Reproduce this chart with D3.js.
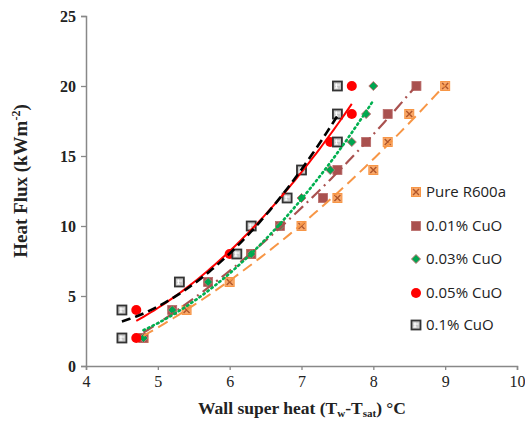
<!DOCTYPE html>
<html><head><meta charset="utf-8">
<script src="https://cdn.jsdelivr.net/npm/d3@7"></script>
<style>body{margin:0;background:#fff}svg{display:block}</style>
</head><body>
<svg id="c" width="525" height="422"></svg>
<script>
const heatFlux = [2,4,6,8,10,12,14,16,18,20];
const seriesNames = ["Pure R600a","0.01% CuO","0.03% CuO","0.05% CuO","0.1% CuO"];
const pureR600a = [4.8,5.4,6.0,6.3,7.0,7.5,8.0,8.2,8.5,9.0];
const cuo001 = [4.8,5.2,5.7,6.3,6.7,7.3,7.5,7.9,8.2,8.6];
const cuo003 = [4.8,5.2,5.7,6.3,6.7,7.0,7.4,7.7,7.9,8.0];
const cuo005 = [4.7,4.7,5.3,6.0,6.3,6.8,7.0,7.4,7.7,7.7];
const cuo01  = [4.5,4.5,5.3,6.1,6.3,6.8,7.0,7.5,7.5,7.5];
const xTicks = [4,5,6,7,8,9,10];
const yTicks = [0,5,10,15,20,25];

const svg = d3.select("#c");
const x = d3.scaleLinear().domain([4,10]).range([86,517]);
const y = d3.scaleLinear().domain([0,25]).range([366,16]);

const styles = [
  {color:"#F79646", dash:"11,6", width:2, marker:"xsq"},
  {color:"#A9514F", dash:"12,5,2,5", width:2.2, marker:"sq"},
  {color:"#00B050", dash:"1.5,3.5", width:2.6, cap:"round", marker:"dia"},
  {color:"#FF0000", dash:null, width:2, marker:"circ"},
  {color:"#000000", dash:"9,5", width:2.6, marker:"pat"}
];
const allX = [pureR600a,cuo001,cuo003,cuo005,cuo01];

// axes
const gx = svg.append("g").attr("transform","translate(0,366)")
  .call(d3.axisBottom(x).tickValues(xTicks).tickSize(4).tickFormat(d3.format("d")));
gx.select(".domain").attr("stroke","#888").attr("stroke-width",1.5);
gx.selectAll(".tick line").attr("stroke","#888").attr("stroke-width",1.3);
gx.selectAll(".tick text").attr("font-family","Liberation Serif").attr("font-size",16).attr("fill","#222").attr("dy","0.9em");

const gy = svg.append("g").attr("transform","translate(86,0)")
  .call(d3.axisLeft(y).tickValues(yTicks).tickSize(5).tickFormat(d3.format("d")));
gy.select(".domain").attr("stroke","#888").attr("stroke-width",1.5);
gy.selectAll(".tick line").attr("stroke","#888").attr("stroke-width",1.3);
gy.selectAll(".tick text").attr("font-family","Liberation Serif").attr("font-weight","bold").attr("font-size",16).attr("fill","#222").attr("x",-10);

// axis titles
const xt = svg.append("text").attr("x",302).attr("y",414).attr("text-anchor","middle")
  .attr("font-family","Liberation Serif").attr("font-weight","bold").attr("font-size",17.5).attr("fill","#222");
xt.append("tspan").text("Wall super heat (T");
xt.append("tspan").text("w").attr("font-size",11).attr("dy",3);
xt.append("tspan").text("-T").attr("dy",-3);
xt.append("tspan").text("sat").attr("font-size",11).attr("dy",3);
xt.append("tspan").text(") °C").attr("dy",-3);

const yt = svg.append("text").attr("transform","translate(27,181) rotate(-90)").attr("text-anchor","middle")
  .attr("font-family","Liberation Serif").attr("font-weight","bold").attr("font-size",19).attr("fill","#222");
yt.append("tspan").text("Heat Flux (kWm");
yt.append("tspan").text("-2").attr("font-size",12).attr("dy",-7);
yt.append("tspan").text(")").attr("dy",7);

// quadratic least squares fit of y on x
function quadFit(xs, ys){
  let S=[0,0,0,0,0], T=[0,0,0];
  xs.forEach((xv,i)=>{ for(let k=0;k<5;k++) S[k]+=Math.pow(xv,k); for(let k=0;k<3;k++) T[k]+=ys[i]*Math.pow(xv,k); });
  const A=[[S[0],S[1],S[2],T[0]],[S[1],S[2],S[3],T[1]],[S[2],S[3],S[4],T[2]]];
  for(let i=0;i<3;i++){ let p=i; for(let r=i+1;r<3;r++) if(Math.abs(A[r][i])>Math.abs(A[p][i])) p=r; [A[i],A[p]]=[A[p],A[i]];
    for(let r=0;r<3;r++) if(r!==i){ const f=A[r][i]/A[i][i]; for(let c=i;c<4;c++) A[r][c]-=f*A[i][c]; } }
  return [A[0][3]/A[0][0], A[1][3]/A[1][1], A[2][3]/A[2][2]];
}

const line = d3.line().x(d=>x(d[0])).y(d=>y(d[1]));
function drawMarker(g, type, cx, cy, col){
  if(type==="xsq"){
    g.append("rect").attr("x",cx-4.5).attr("y",cy-4.5).attr("width",9).attr("height",9).attr("fill","#F9A86A").attr("stroke","#F79646");
    g.append("path").attr("d",`M${cx-3},${cy-3}L${cx+3},${cy+3}M${cx-3},${cy+3}L${cx+3},${cy-3}`).attr("stroke","#B0562A").attr("stroke-width",1.4);
  } else if(type==="sq"){
    g.append("rect").attr("x",cx-4.5).attr("y",cy-4.5).attr("width",9).attr("height",9).attr("fill","#A9514F").attr("stroke","#B86A68").attr("stroke-width",0.8);
  } else if(type==="dia"){
    g.append("path").attr("d",`M${cx},${cy-4.5}L${cx+4.5},${cy}L${cx},${cy+4.5}L${cx-4.5},${cy}Z`).attr("fill","#00A550").attr("stroke","#C07070").attr("stroke-width",1);
  } else if(type==="circ"){
    g.append("circle").attr("cx",cx).attr("cy",cy).attr("r",5).attr("fill","#FF0000");
  } else {
    g.append("rect").attr("x",cx-4.5).attr("y",cy-4.5).attr("width",9).attr("height",9).attr("fill","#c8c8c8").attr("stroke","#333").attr("stroke-width",1.8);
    g.append("path").attr("d",`M${cx-2.5},${cy-1}h5M${cx-1},${cy-2.5}v5M${cx-2.5},${cy+2}h3`).attr("stroke","#fff").attr("stroke-width",1.2);
  }
}

// markers
allX.forEach((xs,si)=>{
  const g = svg.append("g");
  xs.forEach((xv,i)=>drawMarker(g, styles[si].marker, x(xv), y(heatFlux[i]), styles[si].color));
});
// trendlines
allX.forEach((xs,si)=>{
  const [c,b,a] = quadFit(xs, heatFlux);
  const x0 = d3.min(xs), x1 = d3.max(xs);
  const pts = d3.range(0,61).map(k=>{ const xv=x0+(x1-x0)*k/60; return [xv, a*xv*xv+b*xv+c]; });
  const s = styles[si];
  svg.append("path").attr("d",line(pts)).attr("fill","none").attr("stroke",s.color)
    .attr("stroke-width",s.width).attr("stroke-dasharray",s.dash).attr("stroke-linecap",s.cap||"butt");
});

// legend
const legY = [192,226,259,293,325];
seriesNames.forEach((n,i)=>{
  const g = svg.append("g");
  drawMarker(g, styles[i].marker, 416, legY[i], styles[i].color);
  g.append("text").attr("x",426).attr("y",legY[i]).attr("dy","0.35em").text(n)
    .attr("font-family","Open Sans, Carlito, sans-serif").attr("font-size",15).attr("fill","#222");
});
</script>
</body></html>
